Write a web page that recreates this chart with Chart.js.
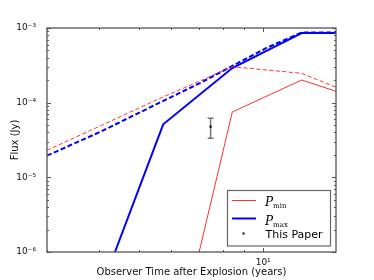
<!DOCTYPE html>
<html>
<head>
<meta charset="utf-8">
<script src="https://cdn.jsdelivr.net/npm/chart.js@4.4.1/dist/chart.umd.min.js"></script>
<style>
  html, body { margin: 0; padding: 0; background: #fff; }
  #wrap { width: 374px; height: 280px; }
</style>
</head>
<body>
<div id="wrap"><canvas id="fluxChart" width="374" height="280"></canvas></div>
<script>
// model curves (time in years, flux in Jy)
var tMinSolid = [7.0, 8.42, 12.39, 15];
var fMinSolid = [1e-6, 7.5e-5, 2.01e-4, 1.42e-4];
var tMinDash = [3, 4.03, 5.72, 7.03, 8.42, 12.39, 15];
var fMinDash = [2.3e-5, 4.87e-5, 1.19e-4, 1.95e-4, 3.03e-4, 2.47e-4, 1.61e-4];
var tMaxSolid = [4.38, 5.73, 8.42, 12.39, 15];
var fMaxSolid = [1e-6, 5.13e-5, 2.91e-4, 8.57e-4, 8.57e-4];
var tMaxDash = [3, 4.03, 5.72, 7.03, 8.42, 10.21, 12.39, 15];
var fMaxDash = [1.95e-5, 4.05e-5, 1.05e-4, 1.83e-4, 3.1e-4, 5.45e-4, 8.7e-4, 8.7e-4];

// this paper's measurement
var obsT = [7.46];
var obsF = [4.77e-5];
var obsLo = [3.33e-5];
var obsHi = [6.18e-5];

// tick positions
var xTicks = [3, 4, 5, 6, 7, 8, 9, 10];
var yDecades = [-6, -5, -4, -3];

var SUP = { '-': '\u207B', '0': '\u2070', '1': '\u00B9', '2': '\u00B2', '3': '\u00B3',
  '4': '\u2074', '5': '\u2075', '6': '\u2076', '7': '\u2077', '8': '\u2078', '9': '\u2079' };
function sup(s) { return String(s).split('').map(function (c) { return SUP[c]; }).join(''); }

function pts(xs, ys) { return xs.map(function (x, i) { return { x: x, y: ys[i] }; }); }

var yTicks = [];
yDecades.forEach(function (d) {
  for (var m = 1; m <= 9; m++) {
    if (d === -3 && m > 1) break;
    yTicks.push({ value: m * Math.pow(10, d), major: m === 1, exp: d });
  }
});

var frameColor = '#555';
var font = 'DejaVu Sans';

var framePlugin = {
  id: 'frame',
  beforeDatasetsDraw: function (chart) {
    // error bar for the measurement
    var ctx = chart.ctx, x = chart.scales.x, y = chart.scales.y;
    ctx.save();
    ctx.strokeStyle = '#777';
    ctx.lineWidth = 1.5;
    obsT.forEach(function (t, i) {
      var px = x.getPixelForValue(t);
      var lo = y.getPixelForValue(obsLo[i]);
      var hi = y.getPixelForValue(obsHi[i]);
      ctx.beginPath();
      ctx.moveTo(px, lo); ctx.lineTo(px, hi);
      ctx.moveTo(px - 3, lo); ctx.lineTo(px + 3, lo);
      ctx.moveTo(px - 3, hi); ctx.lineTo(px + 3, hi);
      ctx.stroke();
    });
    ctx.restore();
  },
  afterDatasetsDraw: function (chart) {
    var ctx = chart.ctx, a = chart.chartArea, x = chart.scales.x, y = chart.scales.y;
    ctx.save();
    ctx.strokeStyle = frameColor;
    ctx.lineWidth = 1;
    x.ticks.forEach(function (t) {
      var px = Math.round(x.getPixelForValue(t.value)) + 0.5;
      var len = t.major ? 4 : 2;
      ctx.beginPath();
      ctx.moveTo(px, a.bottom); ctx.lineTo(px, a.bottom - len);
      ctx.moveTo(px, a.top); ctx.lineTo(px, a.top + len);
      ctx.stroke();
    });
    y.ticks.forEach(function (t) {
      var py = Math.round(y.getPixelForValue(t.value)) + 0.5;
      var len = t.major ? 4 : 2;
      ctx.beginPath();
      ctx.moveTo(a.left, py); ctx.lineTo(a.left + len, py);
      ctx.moveTo(a.right, py); ctx.lineTo(a.right - len, py);
      ctx.stroke();
    });
    ctx.lineWidth = 1.3;
    ctx.strokeRect(a.left, a.top, a.right - a.left, a.bottom - a.top);
    ctx.restore();
  },
  afterDraw: function (chart) {
    // legend with math-style labels
    var ctx = chart.ctx;
    ctx.save();
    ctx.fillStyle = '#fff';
    ctx.strokeStyle = '#666';
    ctx.lineWidth = 1.2;
    ctx.fillRect(227.5, 190.5, 103, 55.5);
    ctx.strokeRect(227.5, 190.5, 103, 55.5);

    ctx.strokeStyle = '#ff3030'; ctx.lineWidth = 1;
    ctx.beginPath(); ctx.moveTo(232, 200.5); ctx.lineTo(256, 200.5); ctx.stroke();
    ctx.strokeStyle = '#0000ff'; ctx.lineWidth = 2;
    ctx.beginPath(); ctx.moveTo(232, 218.5); ctx.lineTo(256, 218.5); ctx.stroke();
    ctx.fillStyle = '#000';
    ctx.fillRect(242.5, 232.5, 2, 2);

    ctx.textBaseline = 'alphabetic';
    ctx.textAlign = 'left';
    [['min', 206], ['max', 225]].forEach(function (e) {
      ctx.font = 'italic 12px "DejaVu Serif"';
      ctx.fillText('P', 265, e[1]);
      var w = ctx.measureText('P').width;
      ctx.font = '7px "DejaVu Serif"';
      ctx.fillText(e[0], 265 + w, e[1] + 1.5);
    });
    ctx.font = '11px "' + font + '"';
    ctx.fillText('This Paper', 265.5, 237.5);
    ctx.restore();
  }
};

var ctx = document.getElementById('fluxChart');
var fluxChart = new Chart(ctx, {
  type: 'scatter',
  data: {
    datasets: [{
      data: pts(tMinDash, fMinDash),
      showLine: true, borderColor: '#ff3030', borderWidth: 1, borderDash: [4, 2.5],
      pointRadius: 0, clip: 0
    }, {
      data: pts(tMaxDash, fMaxDash),
      showLine: true, borderColor: '#0000ff', borderWidth: 2, borderDash: [5, 2.5],
      pointRadius: 0, clip: 0
    }, {
      data: pts(tMinSolid, fMinSolid),
      showLine: true, borderColor: '#ff3030', borderWidth: 1,
      pointRadius: 0, clip: 0
    }, {
      data: pts(tMaxSolid, fMaxSolid),
      showLine: true, borderColor: '#0000ff', borderWidth: 2,
      pointRadius: 0, clip: 0
    }, {
      data: pts(obsT, obsF),
      showLine: false, pointStyle: 'rect', pointRadius: 1.5,
      backgroundColor: '#000', borderColor: '#000', borderWidth: 0
    }]
  },
  options: {
    responsive: false,
    animation: false,
    events: [],
    layout: { padding: { left: 0, top: 28, right: 38, bottom: 0 } },
    plugins: { legend: { display: false }, tooltip: { enabled: false } },
    scales: {
      x: {
        type: 'logarithmic', min: 3, max: 15,
        afterBuildTicks: function (s) {
          s.ticks = xTicks.map(function (v) { return { value: v, major: v === 10 }; });
        },
        afterFit: function (s) { s.height = 28; },
        grid: { display: false },
        border: { display: false },
        ticks: {
          autoSkip: false, maxRotation: 0, padding: -3,
          color: '#111', font: { family: font, size: 9 },
          callback: function (v) { return Math.abs(v - 10) < 1e-9 ? '10' + sup(1) : ''; }
        },
        title: {
          display: true, text: 'Observer Time after Explosion (years)',
          color: '#111', font: { family: font, size: 10 },
          padding: { top: 0, bottom: 2 }
        }
      },
      y: {
        type: 'logarithmic', min: 1e-6, max: 1e-3,
        afterBuildTicks: function (s) {
          s.ticks = yTicks.map(function (t) { return { value: t.value, major: t.major }; });
        },
        afterFit: function (s) { s.width = 47; },
        grid: { display: false },
        border: { display: false },
        ticks: {
          autoSkip: false, padding: 3,
          color: '#111', font: { family: font, size: 9 },
          callback: function (v, i) {
            var t = yTicks[i];
            return t && t.major ? '10' + sup(t.exp) : '';
          }
        },
        title: {
          display: true, text: 'Flux (Jy)',
          color: '#111', font: { family: font, size: 10 },
          padding: { top: 9, bottom: 0 }
        }
      }
    }
  },
  plugins: [framePlugin]
});
</script>
</body>
</html>
